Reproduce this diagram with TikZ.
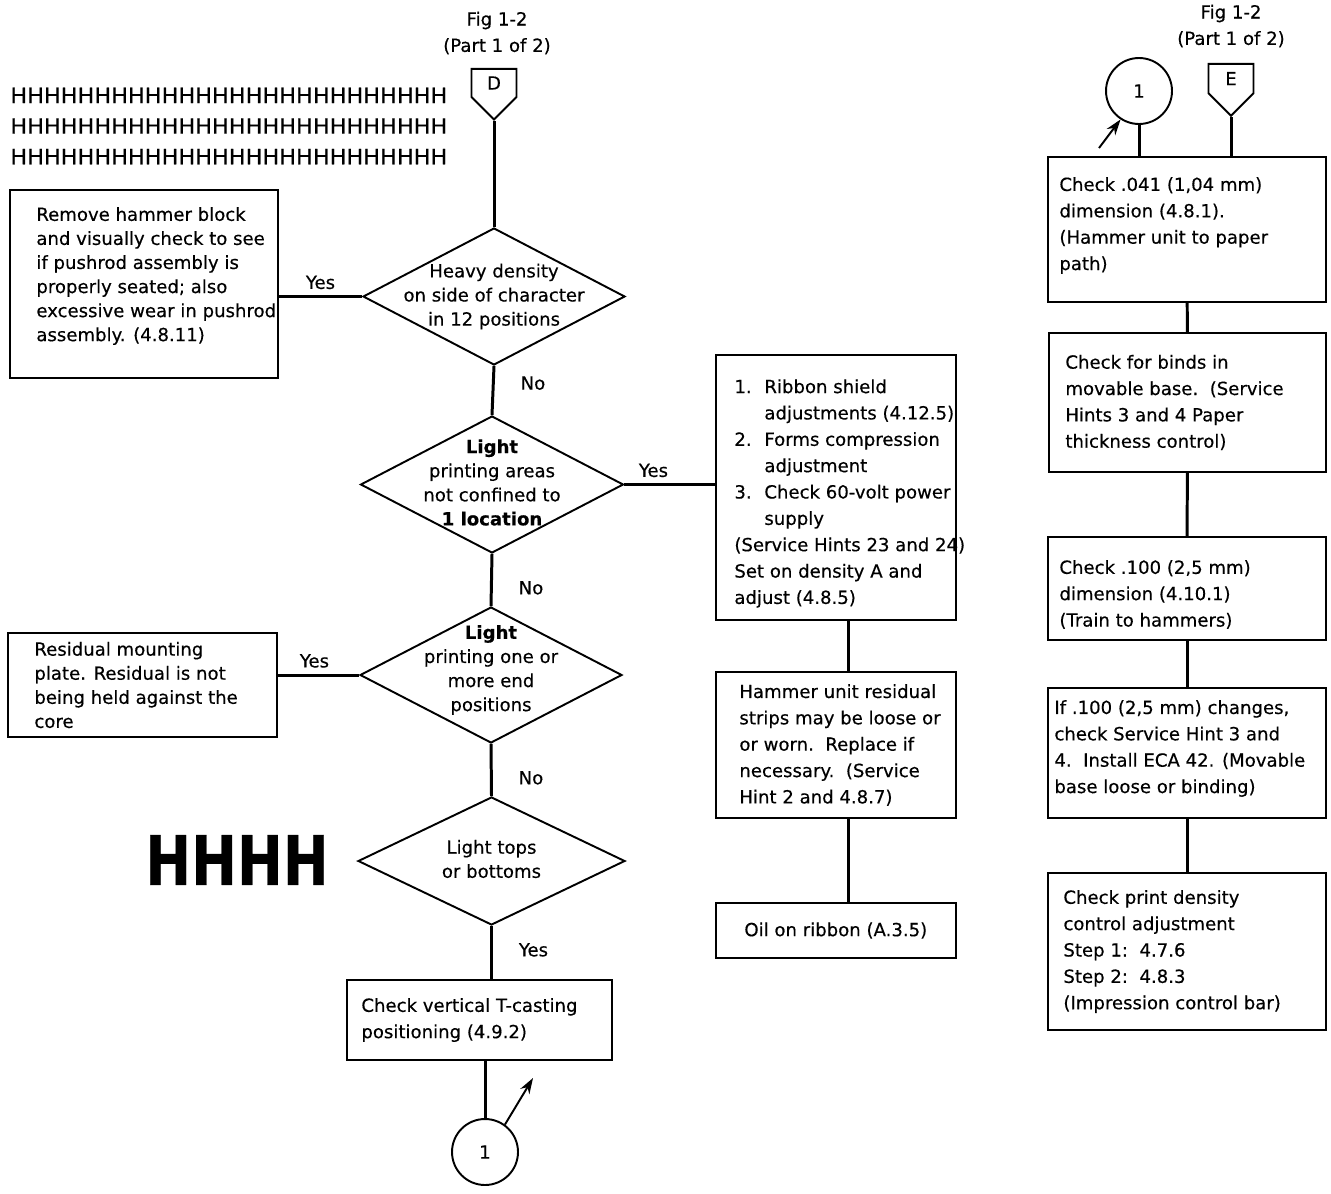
\documentclass[tikz,border=0pt]{standalone}
\usepackage{fontspec}
\setmainfont[FakeBold=0.4]{DejaVu Sans}
\usetikzlibrary{positioning,shapes.geometric,shapes.symbols,arrows.meta}

\newcommand{\hrow}{\scalebox{1.06}[1]{HHHHHHHHHHHHHHHHHHHHHHHHHH}}

\begin{document}
\begin{tikzpicture}[>={Stealth[length=9pt,width=6pt]}, x=0.02cm, y=-0.02cm,
    font=\fontsize{10.3}{15}\selectfont,
    box/.style={draw, line width=1.1pt, inner sep=0pt},
    txt/.style={inner sep=0pt, align=left},
    tight/.style={font=\fontsize{10.3}{13.7}\selectfont},
    dia/.style={draw, diamond, line width=1.1pt, inner sep=0pt},
    con/.style={line width=1.7pt},
    conn/.style={draw, circle, line width=1.1pt, minimum size=1.32cm, inner sep=0pt},
    offpage/.style={draw, signal, signal to=south, signal pointer angle=90,
      line width=1.1pt, minimum width=0.9cm, minimum height=0.7cm, inner sep=0pt}]
  \useasboundingbox (0,0) rectangle (1331,1193);

  % left column
  \node[align=center] (fig1) at (497,33) {Fig 1-2\\(Part 1 of 2)};
  \node[offpage, anchor=north] (D) at (494,68) {D};
  \node[txt, anchor=west, font=\fontsize{12}{17.4}\selectfont] (hrows) at (10,126) {\hrow\\\hrow\\\hrow};

  \node[dia, minimum width=5.24cm, minimum height=2.74cm] (heavy) at (494,296.5) {};
  \node[txt, tight, align=center] (heavy-t) at (heavy.center) {Heavy density\\on side of character\\in 12 positions};
  \node[box, minimum width=5.36cm, minimum height=3.76cm] (hammer) at (144,284) {};
  \node[txt, tight, right=0.54cm of hammer.west, yshift=0.16cm] (hammer-t) {Remove hammer block\\and visually check to see\\if pushrod assembly is\\properly seated; also\\excessive wear in pushrod\\assembly. (4.8.11)};

  \node[dia, minimum width=5.26cm, minimum height=2.74cm] (areas) at (492,484.5) {};
  \node[txt, tight, align=center] (areas-t) at ([yshift=0.04cm]areas.center) {\textbf{Light}\\printing areas\\not confined to\\\textbf{1 location}};

  \node[dia, minimum width=5.24cm, minimum height=2.72cm] (endpos) at (491,675) {};
  \node[txt, tight, align=center] (endpos-t) at ([yshift=0.1cm]endpos.center) {\textbf{Light}\\printing one or\\more end\\positions};
  \node[box, minimum width=5.38cm, minimum height=2.08cm] (residual) at (142.5,685) {};
  \node[txt, tight, right=0.54cm of residual.west] (residual-t) {Residual mounting\\plate. Residual is not\\being held against the\\core};

  \node[txt, font=\fontsize{39}{39}\selectfont\bfseries] (hbig) at (237,860) {\scalebox{0.8}[1]{HHHH}};
  \node[dia, minimum width=5.34cm, minimum height=2.56cm] (tops) at (491.5,861) {};
  \node[txt, tight, align=center] (tops-t) at ([yshift=0.04cm]tops.center) {Light tops\\or bottoms};

  \node[box, minimum width=5.3cm, minimum height=1.6cm] (tcast) at (479.5,1020) {};
  \node[txt, right=0.3cm of tcast.west] (tcast-t) {Check vertical T-casting\\positioning (4.9.2)};
  \node[conn] (c1b) at (485,1152) {1};
  \coordinate (outb) at (533,1078);

  % middle column
  \node[box, minimum width=4.8cm, minimum height=5.3cm] (ribbon) at (836,487.5) {};
  \node[txt, right=0.38cm of ribbon.west, yshift=-0.12cm] (ribbon-t) {\makebox[0.6cm][l]{1.}Ribbon shield\\
    \hspace*{0.6cm}adjustments (4.12.5)\\
    \makebox[0.6cm][l]{2.}Forms compression\\
    \hspace*{0.6cm}adjustment\\
    \makebox[0.6cm][l]{3.}Check 60-volt power\\
    \hspace*{0.6cm}supply\\
    (Service Hints 23 and 24)\\
    Set on density A and\\
    adjust (4.8.5)};
  \node[box, minimum width=4.8cm, minimum height=2.92cm] (strips) at (836,745) {};
  \node[txt, right=0.48cm of strips.west] (strips-t) {Hammer unit residual\\strips may be loose or\\or worn.\ \ Replace if\\necessary.\ \ (Service\\Hint 2 and 4.8.7)};
  \node[box, minimum width=4.8cm, minimum height=1.1cm] (oil) at (836,930.5) {};
  \node[txt, right=0.58cm of oil.west] (oil-t) {Oil on ribbon (A.3.5)};

  % right column
  \node[align=center] (fig2) at (1231,26) {Fig 1-2\\(Part 1 of 2)};
  \node[conn] (c1t) at (1139,91) {1};
  \coordinate (int) at (1099,148);
  \node[offpage, anchor=north] (E) at (1231,63) {E};
  \node[box, minimum width=5.56cm, minimum height=2.9cm] (chkA) at (1187,229.5) {};
  \node[txt, right=0.24cm of chkA.west, yshift=0.08cm] (chkA-t) {Check .041 (1,04 mm)\\dimension (4.8.1).\\(Hammer unit to paper\\path)};
  \node[box, minimum width=5.54cm, minimum height=2.78cm] (chkB) at (1187.5,402.5) {};
  \node[txt, right=0.34cm of chkB.west] (chkB-t) {Check for binds in\\movable base.\ \ (Service\\Hints 3 and 4 Paper\\thickness control)};
  \node[box, minimum width=5.56cm, minimum height=2.06cm] (chkC) at (1187,588.5) {};
  \node[txt, right=0.24cm of chkC.west, yshift=-0.12cm] (chkC-t) {Check .100 (2,5 mm)\\dimension (4.10.1)\\(Train to hammers)};
  \node[box, minimum width=5.56cm, minimum height=2.6cm] (chkD) at (1187,753) {};
  \node[txt, right=0.14cm of chkD.west, yshift=0.09cm] (chkD-t) {If .100 (2,5 mm) changes,\\check Service Hint 3 and\\4.\ \ Install ECA 42. (Movable\\base loose or binding)};
  \node[box, minimum width=5.56cm, minimum height=3.14cm] (chkE) at (1187,951.5) {};
  \node[txt, right=0.32cm of chkE.west] (chkE-t) {Check print density\\control adjustment\\Step 1:\ \ 4.7.6\\Step 2:\ \ 4.8.3\\(Impression control bar)};

  % connectors
  \draw[con] (D.south) -- (heavy.north);
  \draw[con] (heavy.west) -- node[above, pos=0.5] (yes1) {Yes} (heavy.west -| hammer.east);
  \draw[con] (heavy.south) -- node[right=0.4cm, pos=0.35] (no1) {No} (areas.north);
  \draw[con] (areas.east) -- node[above, pos=0.32] (yes2) {Yes} (areas.east -| ribbon.west);
  \draw[con] (areas.south) -- node[right=0.4cm, pos=0.65] (no2) {No} (endpos.north);
  \draw[con] (endpos.west) -- node[above, pos=0.55] (yes3) {Yes} (endpos.west -| residual.east);
  \draw[con] (endpos.south) -- node[right=0.4cm, pos=0.65] (no3) {No} (tops.north);
  \draw[con] (tops.south) -- node[right=0.4cm, pos=0.45] (yes4) {Yes} (tops.south |- tcast.north);
  \draw[con] (c1b.north |- tcast.south) -- (c1b.north);
  \draw[line width=1.1pt, ->] (c1b.54) -- (outb);
  \draw[con] ([xshift=0.24cm]ribbon.south) -- ([xshift=0.24cm]strips.north);
  \draw[con] ([xshift=0.24cm]strips.south) -- ([xshift=0.24cm]oil.north);
  \draw[con] (c1t.south) -- (c1t.south |- chkA.north);
  \draw[line width=1.1pt, ->] (int) -- (c1t.237);
  \draw[con] (E.south) -- (E.south |- chkA.north);
  \draw[con] (chkA) -- (chkB);
  \draw[con] (chkB) -- (chkC);
  \draw[con] (chkC) -- (chkD);
  \draw[con] (chkD) -- (chkE);
\end{tikzpicture}
\end{document}
